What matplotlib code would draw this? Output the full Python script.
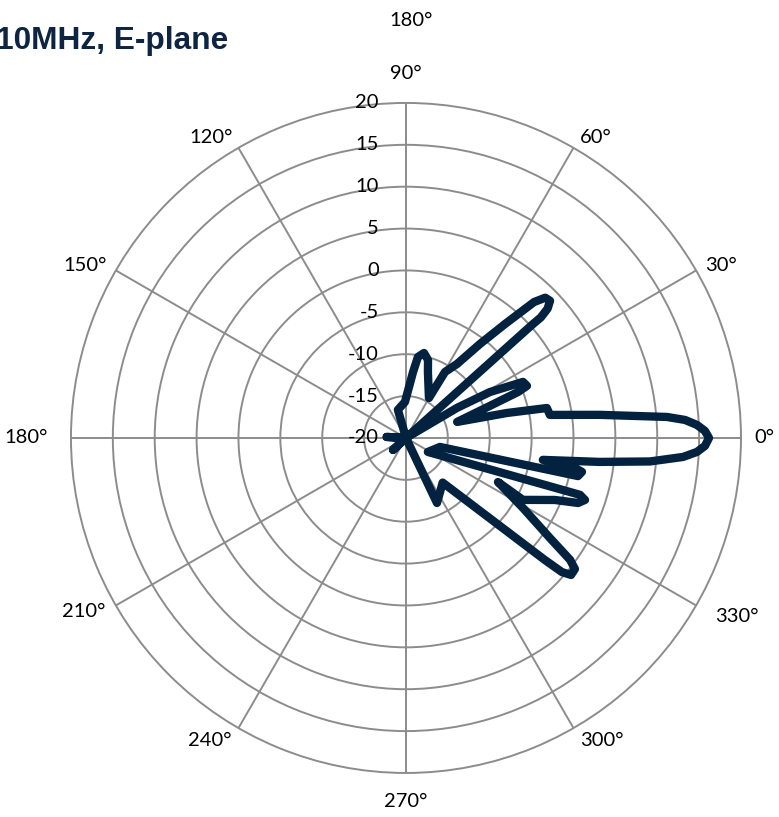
import numpy as np
import matplotlib
matplotlib.use("Agg")
import matplotlib.pyplot as plt
from matplotlib.transforms import offset_copy

# gain pattern (deg, dB), in drawing order
angle_deg = [-75, -64.5, -50.6, -41.3, -40.7, -39.7, -37.8, -36.6, -34.8, -30.9,
             -25.6, -27.9, -22.6, -20.7, -19.1, -18.1, -32.5, -14.8, -12.5, -10.9,
             -10.1, -9.1, -7.05, -5.5, -3.92, -2.75, -1.53, 0.0, 1.34, 2.56,
             3.69, 4.6, 6.8, 9.1, 12.0, 13.9, 17.4, 20.9, 22.3, 23.3,
             25.6, 28.7, 30.5, 35, 41.9, 41.8, 42.4, 43.6, 45.2, 46.7,
             49.0, 51.8, 55.4, 59.4, 59.7, 60.1, 71.6, 74.2, 78.0, 81.6,
             83.9, 91.6, 106, 130, 177, 190, 222.7, 240, 285]
gain_db = [-20, -11.4, -13.1, 2.08, 4.55, 5.61, 5.53, 4.41, 0.93, -3.72,
           -7.82, -4.2, -0.73, 1.96, 2.62, 1.86, -16.9, -15.8, 1.03, 1.4,
           0.49, -3.45, 3.3, 9.27, 13.16, 14.78, 15.71, 16.18, 15.71, 14.78,
           13.39, 11.26, 3.3, -2.6, -2.8, -7.6, -13.6, -9.3, -5.54, -4.27,
           -4.51, -8.6, -12.9, -20, 0.21, 1.6, 2.9, 3.75, 3.6, 2.3,
           -1.97, -5.72, -9.27, -10.84, -12.7, -14.5, -11.7, -10.33, -9.63, -10.22,
           -12.1, -15.7, -16.5, -20, -17.7, -20, -17.9, -20, -20]

r_ticks = [-20, -15, -10, -5, 0, 5, 10, 15, 20]
theta_ticks = list(range(0, 360, 30))
theta_labels = ["0°", "30°", "60°", "90°", "120°", "150°",
                "180°", "210°", "240°", "270°", "300°", "330°"]

title = "10MHz, E-plane"
line_col = "#022240"
grid_col = "#8c8c8c"
fs = 14.5

fig = plt.figure(figsize=(7.79, 8.17), dpi=100)
ax = fig.add_axes([0.0911, 0.0539, 0.8601, 0.8201], projection="polar")

ax.plot(np.deg2rad(angle_deg), gain_db, color=line_col, linewidth=6,
        solid_joinstyle="round", solid_capstyle="round", zorder=5)

ax.set_rlim(-20, 20)
ax.set_yticks(r_ticks[1:-1])
ax.set_yticklabels([])
ax.set_xticks(np.deg2rad(theta_ticks))
ax.set_xticklabels([])
ax.grid(True, color=grid_col, linewidth=1.4)
ax.spines["polar"].set_color(grid_col)
ax.spines["polar"].set_linewidth(1.4)

# angle labels, Excel style: edge of the text box a few pixels off the rim
gaps = [13, 10, 12, 21, 12, 10, 23, 12, 14, 20, 14, 22]
for a, lab, g in zip(theta_ticks, theta_labels, gaps):
    c, s = np.cos(np.deg2rad(a)), np.sin(np.deg2rad(a))
    ha = "left" if c > 0.01 else ("right" if c < -0.01 else "center")
    if abs(c) > 0.01:
        va = "center"
    else:
        va = "bottom" if s > 0 else "top"
    t = offset_copy(ax.transData, fig=fig, x=g * c, y=g * s, units="dots")
    ax.text(np.deg2rad(a), 20, lab, transform=t, ha=ha, va=va,
            fontsize=fs, family="Lato", clip_on=False)

# radial labels sit to the left of the vertical spoke
tr = offset_copy(ax.transData, fig=fig, x=-27, y=0, units="dots")
for v in r_ticks:
    ax.text(np.pi / 2, v, str(v), transform=tr, ha="right", va="center",
            fontsize=fs, family="Lato", clip_on=False)

fig.text(411 / 779, 1 - 20 / 817, "180°", ha="center", va="center",
         fontsize=fs, family="Lato")
fig.text(-0.005, 1 - 49 / 817, title, ha="left", va="baseline",
         fontsize=22.8, weight="bold", family="Liberation Sans", color="#0d2442")

fig.savefig("out.png", dpi=100)
